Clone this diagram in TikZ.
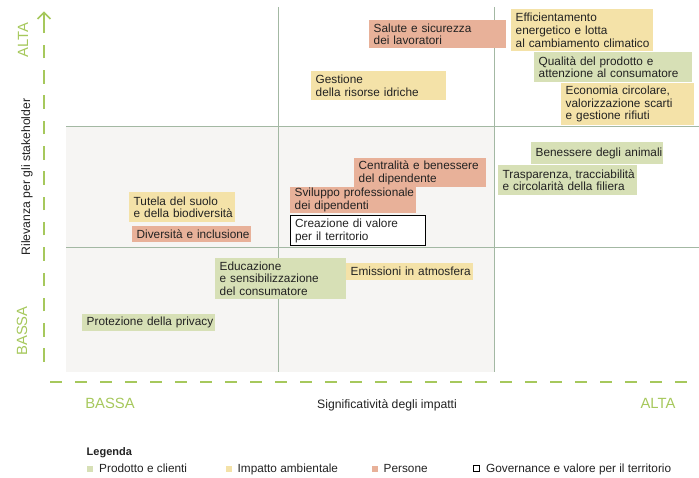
\documentclass[tikz,border=0pt]{standalone}
\usepackage{fontspec}
\setmainfont{Liberation Sans}
\definecolor{cgreen}{HTML}{D7E0B6}
\definecolor{cyellow}{HTML}{F4E2A8}
\definecolor{cpink}{HTML}{E8B199}
\definecolor{bggray}{HTML}{F6F5F3}
\definecolor{gridc}{HTML}{A3B8A3}
\definecolor{axisc}{HTML}{A6C85C}
\definecolor{txt}{HTML}{222222}
\newcommand\bodyfont{\fontsize{11.8pt}{12.7pt}\selectfont}
\newcommand\titlefont{\fontsize{12.2pt}{13pt}\selectfont}
\newcommand\axfont{\fontsize{14.8pt}{16pt}\selectfont}
\tikzset{
  tag/.style={rectangle, anchor=north west, inner xsep=4.5pt, inner ysep=0pt,
    align=left, font=\bodyfont, text=txt,
    execute at begin node={\hyphenpenalty=10000 \exhyphenpenalty=10000 \hbadness=10000 \hfuzz=50pt}},
  gridline/.style={draw=gridc, line width=0.9pt},
  axisline/.style={draw=axisc, line width=1.7pt},
  axlabel/.style={font=\axfont, text=axisc, inner sep=0pt},
  legsq/.style={rectangle, minimum size=6pt, inner sep=0pt},
  legtxt/.style={anchor=base west, inner sep=0pt, font=\bodyfont, text=txt},
}
\begin{document}
\begin{tikzpicture}[x=1pt, y=-1pt]
\useasboundingbox (0,0) rectangle (699,478);
% background of the lower-left quadrants
\fill[bggray] (66,126) rectangle (494,372);
% grid
\draw[gridline] (66,126) -- (699,126);
\draw[gridline] (66,247) -- (699,247);
\draw[gridline] (278,7) -- (278,372);
\draw[gridline] (494,7) -- (494,372);
% axes
\draw[axisline, dash pattern=on 13.5pt off 11.8pt] (44,362) -- (44,25);
\draw[axisline] (44,25) -- (44,12.5);
\draw[axisline, line join=miter] (37.5,19) -- (44,12.5) -- (50.5,19);
\draw[axisline, dash pattern=on 12pt off 13pt] (50,382) -- (699,382);
% axis labels
\node[axlabel, rotate=90] (yalta) at (23,40) {ALTA};
\node[axlabel, rotate=90] (ybassa) at (22,331) {BASSA};
\node[rotate=90, inner sep=0pt, font=\titlefont, text=txt] (ytitle) at (27,177) {Rilevanza per gli stakeholder};
\node[axlabel] (xbassa) at (110,403) {BASSA};
\node[axlabel] (xalta) at (658,403) {ALTA};
\node[inner sep=0pt, font=\titlefont, text=txt] (xtitle) at (387,405) {Significatività degli impatti};
% topics
\node[tag, fill=cpink, minimum width=137pt, minimum height=28pt, text width=128pt] (salute) at (369,20) {Salute~e~sicurezza\\dei~lavoratori};
\node[tag, fill=cyellow, minimum width=142pt, minimum height=42pt, text width=133pt] (effic) at (511,9) {Efficientamento\\energetico~e~lotta\\al~cambiamento~climatico};
\node[tag, fill=cgreen, minimum width=158pt, minimum height=30pt, text width=149pt] (qualita) at (534,52) {Qualità~del~prodotto~e\\attenzione~al~consumatore};
\node[tag, fill=cyellow, minimum width=133pt, minimum height=42pt, text width=124pt] (econ) at (561,83) {Economia~circolare,\\valorizzazione~scarti\\e~gestione~rifiuti};
\node[tag, fill=cyellow, minimum width=135pt, minimum height=29pt, text width=126pt] (gest) at (311,71) {Gestione\\della~risorse~idriche};
\node[tag, fill=cgreen, minimum width=132pt, minimum height=22pt, text width=123pt] (anim) at (531,142) {Benessere~degli~animali};
\node[tag, fill=cgreen, minimum width=139pt, minimum height=30pt, text width=130pt] (trasp) at (498,165) {Trasparenza,~tracciabilità\\e~circolarità~della~filiera};
\node[tag, fill=cpink, minimum width=132pt, minimum height=29pt, text width=123pt] (centr) at (354,158) {Centralità~e~benessere\\del~dipendente};
\node[tag, fill=cpink, minimum width=126pt, minimum height=26pt, text width=117pt] (svil) at (290,187) {Sviluppo~professionale\\dei~dipendenti};
\node[tag, fill=white, draw=black, line width=1.2pt, minimum width=135pt, minimum height=30pt, text width=126pt] (creaz) at (290,215) {Creazione~di~valore\\per~il~territorio};
\node[tag, fill=cyellow, minimum width=106pt, minimum height=30pt, text width=97pt] (tutela) at (129,192) {Tutela~del~suolo\\e~della~biodiversità};
\node[tag, fill=cpink, minimum width=119pt, minimum height=16pt, text width=110pt] (divers) at (132,226) {Diversità~e~inclusione};
\node[tag, fill=cgreen, minimum width=131pt, minimum height=41pt, text width=122pt] (educ) at (215,258) {Educazione\\e~sensibilizzazione\\del~consumatore};
\node[tag, fill=cyellow, minimum width=127pt, minimum height=17pt, text width=118pt] (emiss) at (346,263) {Emissioni~in~atmosfera};
\node[tag, fill=cgreen, minimum width=133pt, minimum height=17pt, text width=124pt] (priv) at (82,314) {Protezione~della~privacy};
% legend
\node[anchor=base west, inner sep=0pt, font=\fontsize{11pt}{13pt}\selectfont\bfseries, text=txt] (leg) at (86.5,455.5) {Legenda};
\node[legsq, fill=cgreen] (sq1) at (90,468.5) {};
\node[legtxt] (l1) at (99,472) {Prodotto e clienti};
\node[legsq, fill=cyellow] (sq2) at (229,468.5) {};
\node[legtxt] (l2) at (237.5,472) {Impatto ambientale};
\node[legsq, fill=cpink] (sq3) at (375,468.5) {};
\node[legtxt] (l3) at (383.5,472) {Persone};
\node[legsq, draw=black, line width=1.2pt, minimum size=5.5pt] (sq4) at (476.5,468.5) {};
\node[legtxt] (l4) at (486,472) {Governance e valore per il territorio};
\end{tikzpicture}
\end{document}
